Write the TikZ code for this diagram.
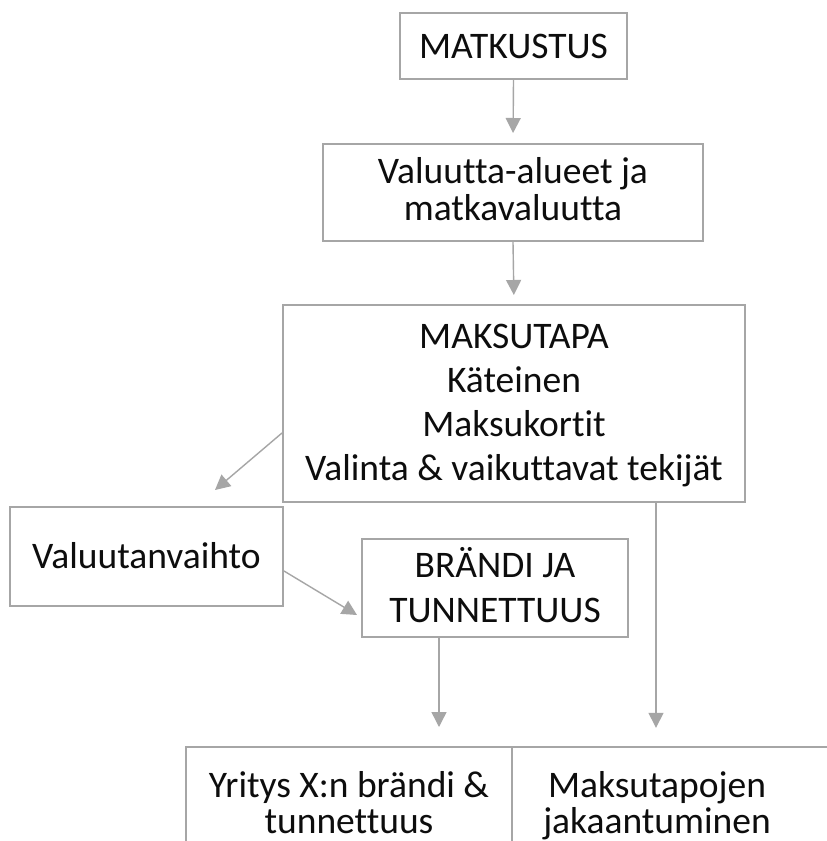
\documentclass[tikz,border=0pt]{standalone}
\usepackage{fontspec}
\setmainfont[Ligatures=NoCommon]{Carlito}
\usetikzlibrary{arrows.meta,calc}
\definecolor{boxgray}{HTML}{A6A6A6}
\definecolor{txt}{HTML}{0D0D0D}
\begin{document}
\begin{tikzpicture}[x=1pt,y=-1pt,
  box/.style={draw=boxgray,line width=2pt,inner sep=0pt,align=center,text=txt,anchor=base},
  plain/.style={inner sep=0pt,align=center,text=txt,anchor=base},
  fs/.style={font=\fontsize{37.5}{#1}\selectfont},
  boxline/.style={draw=boxgray,line width=2pt},
  conn/.style={draw=boxgray,line width=1.4pt,-{Triangle[length=15pt,width=15pt]}}]
\useasboundingbox (0,0) rectangle (827,841);
\clip (0,0) rectangle (827,841);
\fill[white] (0,0) rectangle (827,841);

% base = baseline of the last text line
\node[box,fs=44,minimum width=227pt,text height=45pt,text depth=21pt] (mat) at (513.5,58) {MATKUSTUS};
\node[box,fs=37,minimum width=380pt,text height=76pt,text depth=21pt] (val) at (513,220) {Valuutta-alueet ja\\matkavaluutta};
\node[box,fs=44,minimum width=462pt,text height=175pt,text depth=22pt] (mak) at (514,480) {MAKSUTAPA\\Käteinen\\Maksukortit\\Valinta \& vaikuttavat tekijät};
\node[box,fs=44,minimum width=273pt,text height=61pt,text depth=38pt] (vx) at (146.5,568) {Valuutanvaihto};
\node[box,fs=45,minimum width=266pt,text height=83pt,text depth=15pt] (br) at (495,622) {BRÄNDI JA\\TUNNETTUUS};
\node[box,fs=36,minimum width=326pt,text height=86pt,text depth=47pt] (yr) at (349,833) {Yritys X:n brändi \&\\tunnettuus};
\node[plain,fs=36,minimum width=290pt,text height=86pt,text depth=47pt] (jak) at (657,833) {Maksutapojen\\jakaantuminen};
\draw[boxline] (jak.north west) -- ++(340,0);

\coordinate (a1) at ($(mak.west)+(0,29.5)$);
\coordinate (a2) at ($(vx.north)+(68.5,-16)$);
\coordinate (b1) at ($(vx.east)+(0,14.5)$);
\coordinate (b2) at ($(br.west)+(-4,27)$);
\coordinate (c1) at ($(br.south)+(-56,0)$);
\coordinate (c2) at ($(yr.north)+(90,-19)$);
\coordinate (d1) at ($(mak.south)+(142,0)$);
\coordinate (d2) at ($(jak.north)+(-1,-19)$);

\draw[conn,shorten >=10pt] (mat.south) -- (val.north);
\draw[conn,shorten >=9pt] (val.south) -- (mak.north);
\draw[conn] (a1) -- (a2);
\draw[conn] (b1) -- (b2);
\draw[conn] (c1) -- (c2);
\draw[conn] (d1) -- (d2);
\end{tikzpicture}
\end{document}
